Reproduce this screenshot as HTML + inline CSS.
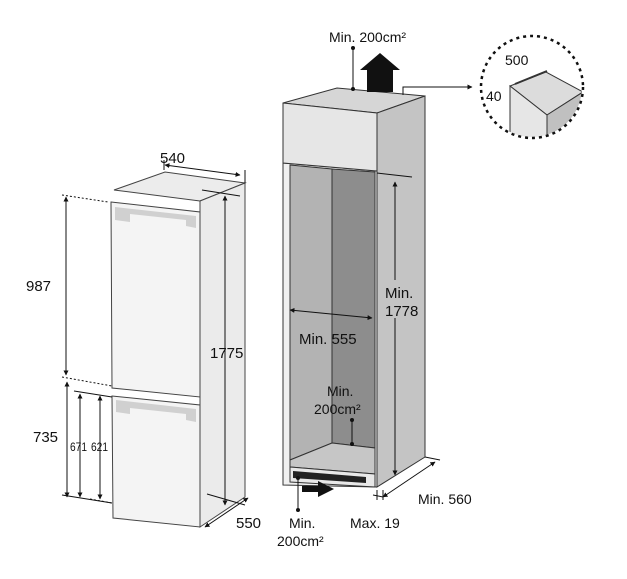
<!DOCTYPE html>
<html><head><meta charset="utf-8"><style>
html,body{margin:0;padding:0;background:#fff;}
svg{display:block;}
text{font-family:"Liberation Sans",sans-serif;fill:#111;}
</style></head><body>
<svg width="627" height="579" viewBox="0 0 627 579" xmlns="http://www.w3.org/2000/svg">
<defs>
<marker id="a" viewBox="0 0 10 10" refX="9" refY="5" markerWidth="5" markerHeight="5" orient="auto-start-reverse"><path d="M0,0L10,5L0,10z" fill="#111"/></marker>
</defs>
<rect width="627" height="579" fill="#fff"/>
<!-- LEFT FRIDGE -->
<g stroke="#444" stroke-width="1">
<polygon points="114,190 165,172 245,183 200,201" fill="#ececec"/>
<polygon points="200,201 245,183 245,497 200,527" fill="#ebebeb"/>
<polygon points="111,202 200,212 200,397 112,388" fill="#f4f4f4"/>
<polygon points="112,396 200,405 200,527 113,518" fill="#f4f4f4"/>
</g>
<polygon points="115,207 196,216 196,228 186,226 186,220 130,214 130,222 115,220" fill="#d0d0d0"/>
<polygon points="116,400 196,409 196,422 186,420 186,414 130,408 130,414 116,412" fill="#d0d0d0"/>
<!-- left dims -->
<g stroke="#111" stroke-width="1" fill="none">
<line x1="165" y1="165" x2="240" y2="175" marker-start="url(#a)" marker-end="url(#a)"/>
<line x1="164" y1="160" x2="164" y2="170"/><line x1="245" y1="170" x2="245" y2="183"/>
<line x1="202" y1="190" x2="240" y2="196"/>
<line x1="225" y1="196" x2="225" y2="505" marker-start="url(#a)" marker-end="url(#a)"/>
<line x1="62" y1="195" x2="108" y2="202" stroke-dasharray="2,2"/>
<line x1="66" y1="197" x2="66" y2="375" marker-start="url(#a)" marker-end="url(#a)"/>
<line x1="62" y1="377" x2="112" y2="386" stroke-dasharray="2,2"/>
<line x1="67" y1="382" x2="67" y2="497" marker-start="url(#a)" marker-end="url(#a)"/>
<line x1="74" y1="391" x2="112" y2="397"/>
<line x1="80" y1="394" x2="80" y2="497" marker-start="url(#a)" marker-end="url(#a)"/>
<line x1="100" y1="396" x2="100" y2="499" marker-start="url(#a)" marker-end="url(#a)"/>
<line x1="62" y1="495" x2="112" y2="503"/>
<line x1="90" y1="499" x2="112" y2="503" stroke-dasharray="2,2"/>
<line x1="205" y1="527" x2="248" y2="498" marker-start="url(#a)" marker-end="url(#a)"/>
<line x1="207" y1="494" x2="245" y2="505"/>
</g>
<text x="160" y="163" font-size="15">540</text>
<text x="26" y="291" font-size="15">987</text>
<text x="210" y="358" font-size="15">1775</text>
<text x="33" y="442" font-size="15">735</text>
<text x="70" y="451" font-size="12" textLength="17" lengthAdjust="spacingAndGlyphs">671</text>
<text x="91" y="451" font-size="12" textLength="17" lengthAdjust="spacingAndGlyphs">621</text>
<text x="236" y="528" font-size="15">550</text>
<!-- CABINET -->
<g stroke="#333" stroke-width="1">
<polygon points="283,103 337,88 425,96 377,113" fill="#d6d6d6"/>
<polygon points="377,113 425,96 425,457 377,487" fill="#c4c4c4"/>
<polygon points="283,163 377,171 377,487 283,485" fill="#f0f0f0"/>
<polygon points="290,165 332,169 332,443 290,460" fill="#b3b3b3"/>
<polygon points="332,169 375,172 375,448 332,443" fill="#8d8d8d"/>
<polygon points="290,460 332,443 375,448 375,474 290,467" fill="#c6c6c6"/>
<polygon points="290,467 375,474 375,487 290,482" fill="#e8e8e8"/>
<polygon points="283,103 377,113 377,171 283,163" fill="#e6e6e6"/>
</g>
<polygon points="293,471 366,477 366,483 293,478" fill="#222"/>
<polygon points="302,486 318,486 318,481 334,489 318,497 318,492 302,492" fill="#111"/>
<polygon points="367,92 367,70 360,70 380,53 400,70 393,70 393,92" fill="#111"/>
<g stroke="#111" stroke-width="1" fill="none">
<line x1="353" y1="48" x2="353" y2="89"/>
<polyline points="403,95 403,87 472,87" marker-end="url(#a)"/>
<line x1="377" y1="173" x2="412" y2="177"/>
<line x1="395" y1="182" x2="395" y2="280" marker-start="url(#a)"/>
<line x1="395" y1="318" x2="395" y2="475" marker-end="url(#a)"/>
<line x1="290" y1="310" x2="372" y2="318" marker-start="url(#a)" marker-end="url(#a)"/>
<line x1="352" y1="420" x2="352" y2="445"/>
<line x1="298" y1="480" x2="298" y2="510"/>
<line x1="383" y1="497" x2="435" y2="462" marker-start="url(#a)" marker-end="url(#a)"/>
<line x1="425" y1="457" x2="440" y2="460"/>
<line x1="373" y1="495" x2="383" y2="497"/>
<line x1="377" y1="490" x2="377" y2="500"/><line x1="383" y1="490" x2="383" y2="500"/>
</g>
<circle cx="353" cy="48" r="2" fill="#111"/><circle cx="353" cy="89" r="2" fill="#111"/>
<circle cx="352" cy="420" r="2" fill="#111"/><circle cx="352" cy="444" r="2" fill="#111"/>
<circle cx="298" cy="478" r="2" fill="#111"/><circle cx="298" cy="510" r="2" fill="#111"/>
<text x="329" y="42" font-size="14">Min. 200cm²</text>
<text x="385" y="298" font-size="15">Min.</text>
<text x="385" y="316" font-size="15">1778</text>
<text x="299" y="344" font-size="15">Min. 555</text>
<text x="327" y="396" font-size="14">Min.</text>
<text x="314" y="414" font-size="14">200cm²</text>
<text x="418" y="504" font-size="14">Min. 560</text>
<text x="350" y="528" font-size="14">Max. 19</text>
<text x="289" y="528" font-size="14">Min.</text>
<text x="277" y="546" font-size="14">200cm²</text>
<!-- DETAIL CIRCLE -->
<clipPath id="c"><circle cx="532" cy="87" r="50"/></clipPath>
<g clip-path="url(#c)" stroke="#333" stroke-width="1">
<polygon points="510,86 546,72 583,92 547,115" fill="#dcdcdc"/>
<polygon points="510,86 547,115 547,150 510,150" fill="#e6e6e6"/>
<polygon points="547,115 583,92 583,150 547,150" fill="#c0c0c0"/>
<line x1="515" y1="84" x2="547" y2="71" stroke-width="2"/>
</g>
<circle cx="532" cy="87" r="51" fill="none" stroke="#111" stroke-width="2.5" stroke-dasharray="3,4"/>
<text x="505" y="65" font-size="14">500</text>
<text x="486" y="101" font-size="14">40</text>
</svg>
</body></html>
